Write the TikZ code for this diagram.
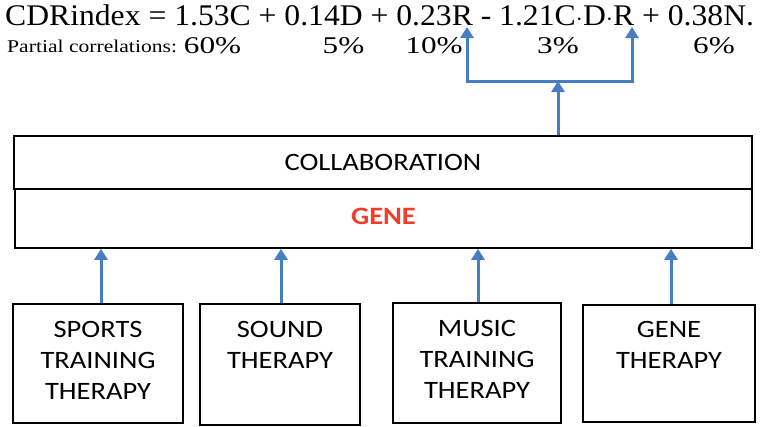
\documentclass[tikz,border=0pt]{standalone}
\usepackage{fontspec}
\setmainfont{Liberation Serif}
\newfontfamily\boxfont{Carlito}
\usetikzlibrary{arrows.meta}
\definecolor{arrowblue}{RGB}{70,125,195}
\definecolor{genered}{RGB}{240,60,40}
\tikzset{
  box/.style={draw=black, line width=1.6pt, fill=white, inner sep=0pt},
  boxtext/.style={font=\boxfont\fontsize{25}{31}\selectfont, align=center, xscale=1.14, transform shape},
  uparrow/.style={draw=arrowblue, line width=3pt, -{Triangle[length=11pt,width=13pt]}},
  bline/.style={draw=arrowblue, line width=3pt},
  pct/.style={anchor=base, inner sep=0pt, font=\fontsize{24}{26}\selectfont, xscale=1.3, transform shape},
}
\begin{document}
\begin{tikzpicture}[x=1pt,y=-1pt]
\useasboundingbox (0,0) rectangle (760,426);
% equation
\node[anchor=base west, inner sep=0pt, font=\fontsize{30}{32}\selectfont, xscale=1.055, transform shape] (eq) at (5,25) {CDRindex = 1.53C + 0.14D + 0.23R - 1.21C$\cdot$D$\cdot$R + 0.38N.};
\node[anchor=base west, inner sep=0pt, font=\fontsize{18}{20}\selectfont, xscale=1.2, transform shape] (pc) at (7,52) {Partial correlations:};
\node[pct] (p1) at (212.5,53) {60\%};
\node[pct] (p2) at (343.5,53) {5\%};
\node[pct] (p3) at (434,53) {10\%};
\node[pct] (p4) at (558,53) {3\%};
\node[pct] (p5) at (714,53) {6\%};
% big boxes
\node[box, minimum width=738pt, minimum height=53pt] (collab) at (383,162.5) {};
\node[boxtext, anchor=center] (collabt) at (collab.center) {COLLABORATION};
\node[box, minimum width=737pt, minimum height=59pt] (gene) at (383.5,218.5) {};
\node[boxtext, anchor=center, text=genered, font=\boxfont\bfseries\fontsize{25}{31}\selectfont] (genet) at ([yshift=2pt]gene.center) {GENE};
% bottom boxes
\node[box, minimum width=170pt, minimum height=119pt] (b1) at (98,363.5) {};
\node[box, minimum width=160pt, minimum height=121pt] (b2) at (280,364.5) {};
\node[box, minimum width=168pt, minimum height=120pt] (b3) at (477,363) {};
\node[box, minimum width=172pt, minimum height=117pt] (b4) at (669,363.5) {};
\node[boxtext, anchor=north] (t1) at ([yshift=-15pt]b1.north) {SPORTS\\TRAINING\\THERAPY};
\node[boxtext, anchor=north] (t2) at ([yshift=-15pt]b2.north) {SOUND\\THERAPY};
\node[boxtext, anchor=north] (t3) at ([yshift=-15pt]b3.north) {MUSIC\\TRAINING\\THERAPY};
\node[boxtext, anchor=north] (t4) at ([yshift=-14pt]b4.north) {GENE\\THERAPY};
% arrows from boxes to gene
\draw[uparrow] ([xshift=3pt]b1.north) -- ([xshift=3pt]b1.north |- gene.south);
\draw[uparrow] ([xshift=1pt]b2.north) -- ([xshift=1pt]b2.north |- gene.south);
\draw[uparrow] ([xshift=1pt]b3.north) -- ([xshift=1pt]b3.north |- gene.south);
\draw[uparrow] ([xshift=2pt]b4.north) -- ([xshift=2pt]b4.north |- gene.south);
% arrows to equation
\coordinate (mid) at (558,81);
\coordinate (jl) at (467,81);
\coordinate (jr) at (632,81);
\coordinate (tl) at (467,27);
\coordinate (tr) at (632,27);
\draw[uparrow] (collab.north -| mid) -- (mid);
\draw[bline] ([xshift=-1.5pt]jl) -- ([xshift=1.5pt]jr);
\draw[uparrow] (jl) -- (tl);
\draw[uparrow] (jr) -- (tr);
\end{tikzpicture}
\end{document}
